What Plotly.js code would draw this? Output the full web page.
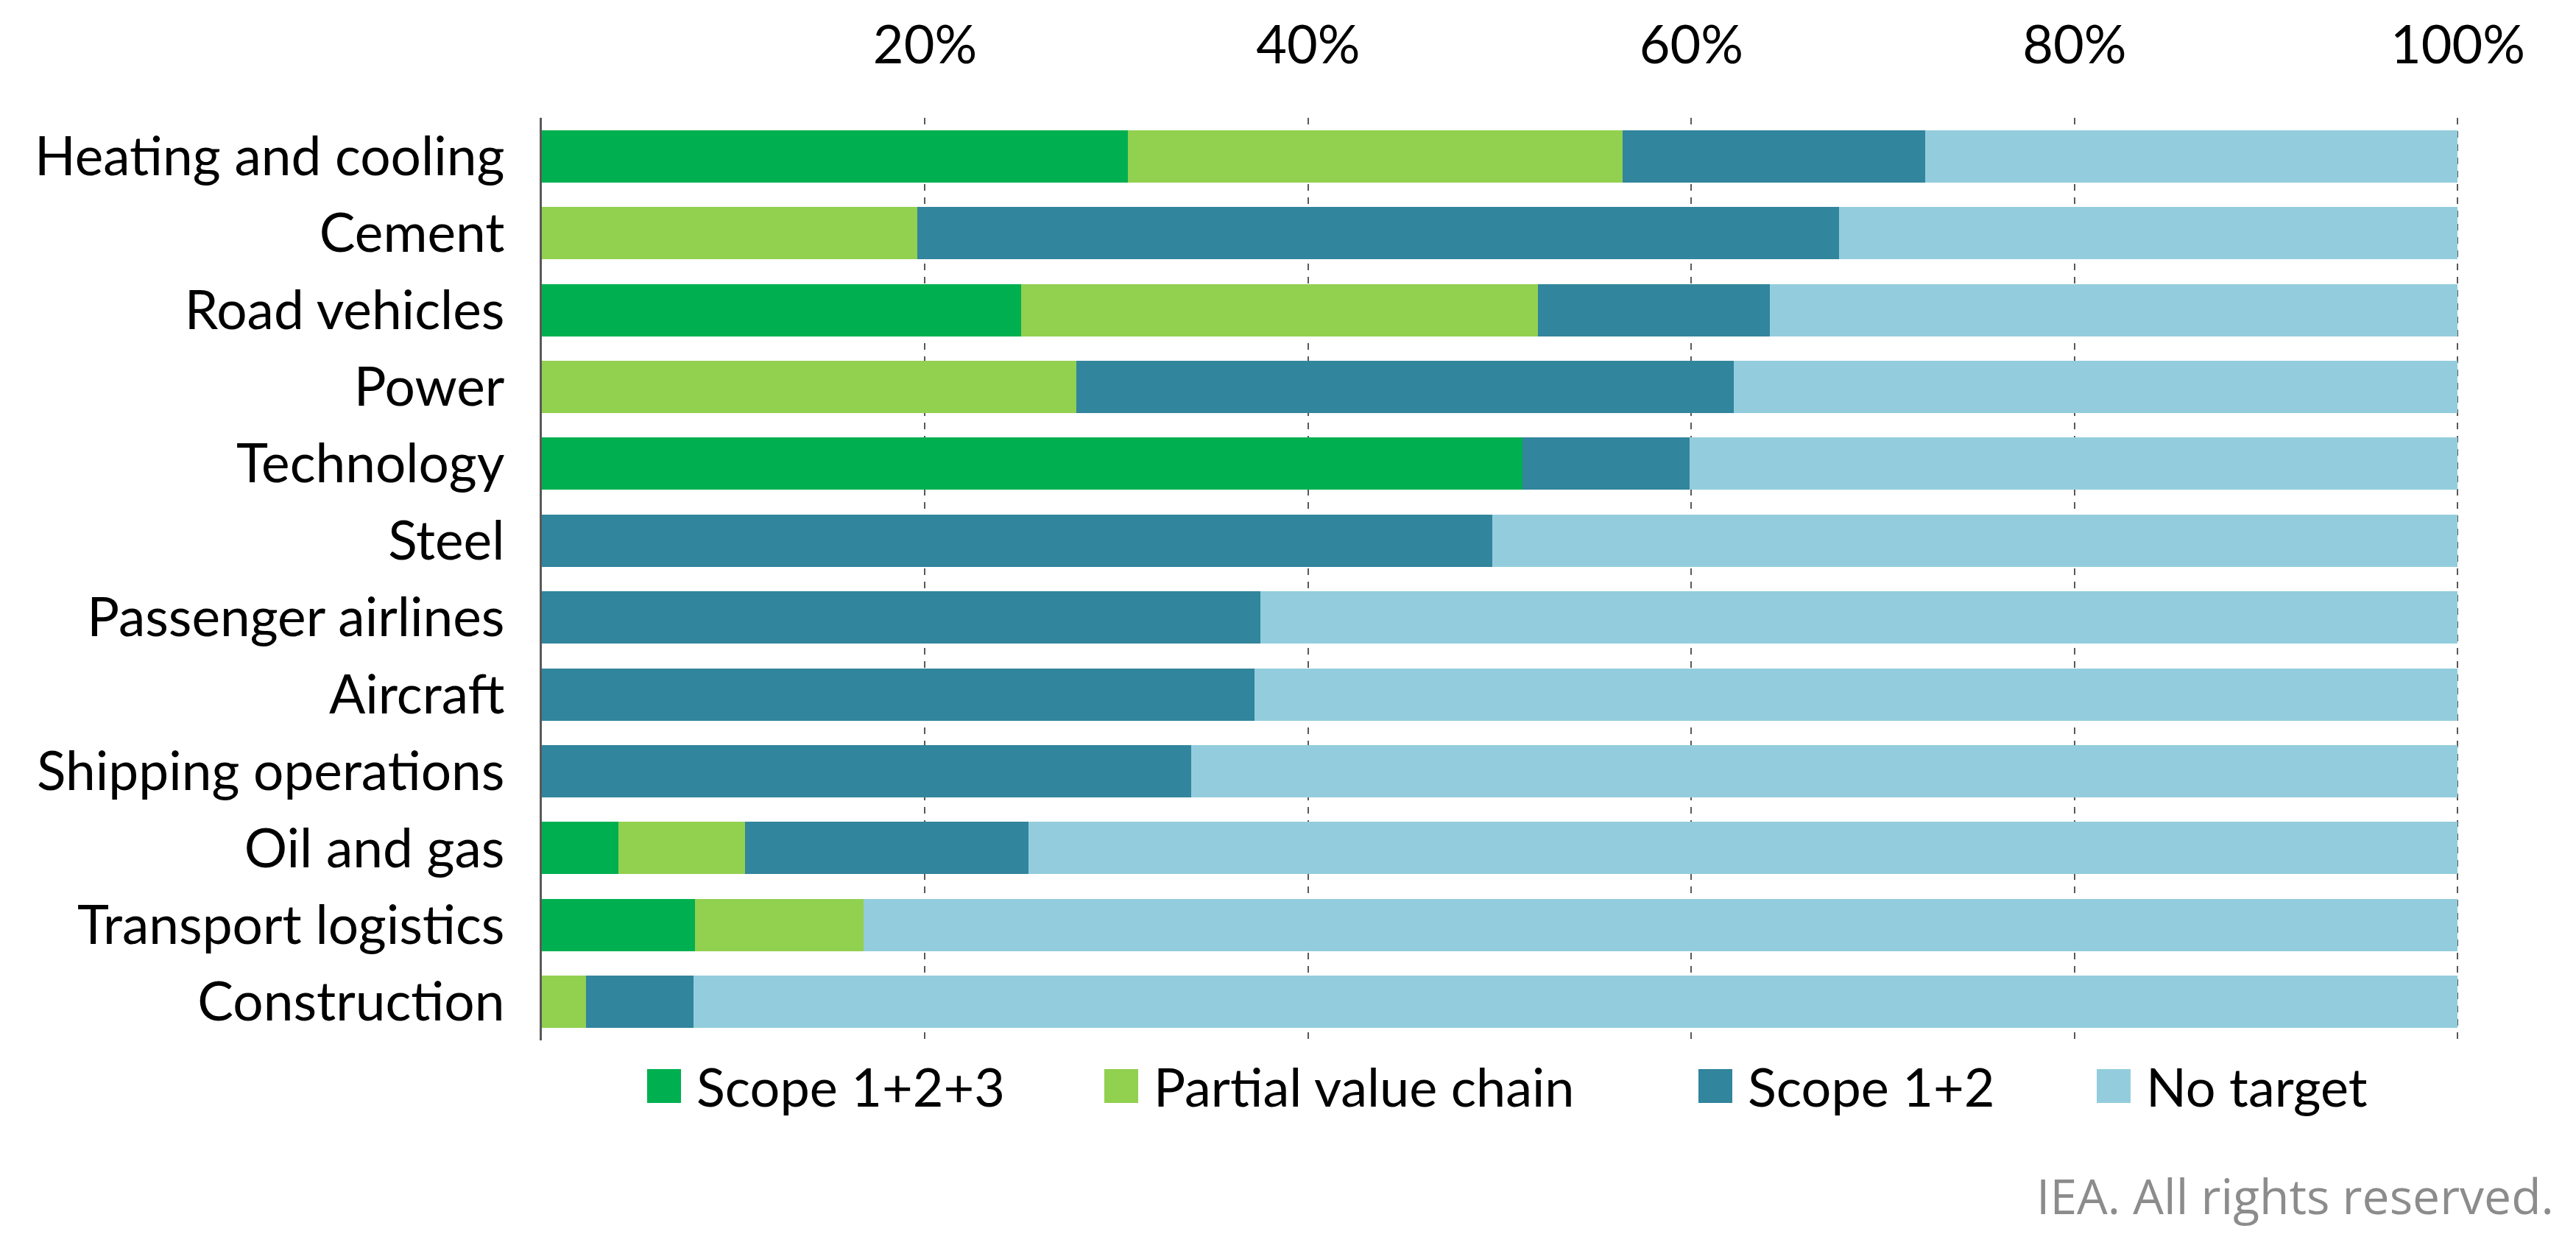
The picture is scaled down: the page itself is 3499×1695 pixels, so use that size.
<!DOCTYPE html>
<html>
<head>
<meta charset="utf-8">
<script src="https://cdn.plot.ly/plotly-3.0.1.min.js"></script>
<style>
  html, body { margin: 0; padding: 0; background: #ffffff; }
  #chart { width: 3499px; height: 1695px; }
</style>
</head>
<body>
<div id="chart"></div>
<script>
// ---- Data (percent of companies) ----
const categories = [
  'Heating and cooling', 'Cement', 'Road vehicles', 'Power', 'Technology', 'Steel',
  'Passenger airlines', 'Aircraft', 'Shipping operations', 'Oil and gas',
  'Transport logistics', 'Construction'
];
const scope123     = [30.6, 0,    25.0, 0,    51.2, 0,    0,    0,    0,    4.0,  8.0,  0];
const partialChain = [25.8, 19.6, 27.0, 27.9, 0,    0,    0,    0,    0,    6.6,  8.8,  2.3];
const scope12      = [15.8, 48.1, 12.1, 34.3, 8.7,  49.6, 37.5, 37.2, 33.9, 14.8, 0,    5.6];
const noTarget     = [27.8, 32.3, 35.9, 37.8, 40.1, 50.4, 62.5, 62.8, 66.1, 74.6, 83.2, 92.1];

const seriesNames  = ['Scope 1+2+3', 'Partial value chain', 'Scope 1+2', 'No target'];
const xTickVals    = [20, 40, 60, 80, 100];
const xTickText    = ['20%', '40%', '60%', '80%', '100%'];

// ---- Styles ----
const colors = ['#00B050', '#92D050', '#31859C', '#93CDDD'];
const FONT = 'Lato, "Open Sans", sans-serif';

const W = 3499, H = 1695;
const M = { l: 736, r: 158, t: 160, b: 282 };
const PW = W - M.l - M.r, PH = H - M.t - M.b;
const px2x = px => (px - M.l) / PW;
const py2y = py => (H - M.b - py) / PH;

const seriesValues = [scope123, partialChain, scope12, noTarget];
const traces = seriesValues.map((vals, i) => ({
  type: 'bar',
  orientation: 'h',
  name: seriesNames[i],
  y: categories,
  x: vals,
  marker: { color: colors[i], line: { width: 0 } },
  showlegend: false,
  hoverinfo: 'skip'
}));

// Custom legend (large square swatches)
const legendSwatchLeft = [879, 1500, 2307, 2848];
const swatch = 46, legendCy = 1475;
const shapes = [], annotations = [];
seriesNames.forEach((name, i) => {
  const x0 = legendSwatchLeft[i];
  shapes.push({
    type: 'rect', xref: 'paper', yref: 'paper',
    x0: px2x(x0), x1: px2x(x0 + swatch),
    y0: py2y(legendCy + swatch / 2), y1: py2y(legendCy - swatch / 2),
    fillcolor: colors[i], line: { width: 0 }
  });
  annotations.push({
    xref: 'paper', yref: 'paper',
    x: px2x(x0 + swatch + 19), y: py2y(legendCy),
    xanchor: 'left', yanchor: 'middle',
    text: name, showarrow: false,
    font: { family: FONT, size: 72, color: '#000000' }
  });
});
annotations.push({
  xref: 'paper', yref: 'paper',
  x: px2x(3471), y: py2y(1623),
  xanchor: 'right', yanchor: 'middle',
  text: 'IEA. All rights reserved.', showarrow: false,
  font: { family: '"Open Sans", Lato, sans-serif', size: 66, color: '#8c8c8c' }
});

const layout = {
  width: W, height: H,
  margin: M,
  paper_bgcolor: '#ffffff',
  plot_bgcolor: '#ffffff',
  barmode: 'stack',
  bargap: 0.32,
  font: { family: FONT, size: 72, color: '#000000' },
  xaxis: {
    side: 'top',
    range: [0, 100.1],
    tickvals: xTickVals,
    ticktext: xTickText,
    showgrid: true,
    gridcolor: '#595959',
    gridwidth: 2,
    griddash: 'dash',
    zeroline: false,
    showline: false,
    ticks: 'outside',
    ticklen: 44,
    tickcolor: 'rgba(0,0,0,0)',
    tickfont: { family: FONT, size: 72, color: '#000000' },
    fixedrange: true
  },
  yaxis: {
    autorange: 'reversed',
    showgrid: false,
    zeroline: false,
    showline: true,
    linecolor: '#595959',
    linewidth: 3,
    ticks: 'outside',
    ticklen: 33,
    tickcolor: 'rgba(0,0,0,0)',
    tickfont: { family: FONT, size: 73, color: '#000000' },
    fixedrange: true
  },
  shapes: shapes,
  annotations: annotations
};

Plotly.newPlot('chart', traces, layout, { displayModeBar: false, staticPlot: true });
</script>
</body>
</html>
